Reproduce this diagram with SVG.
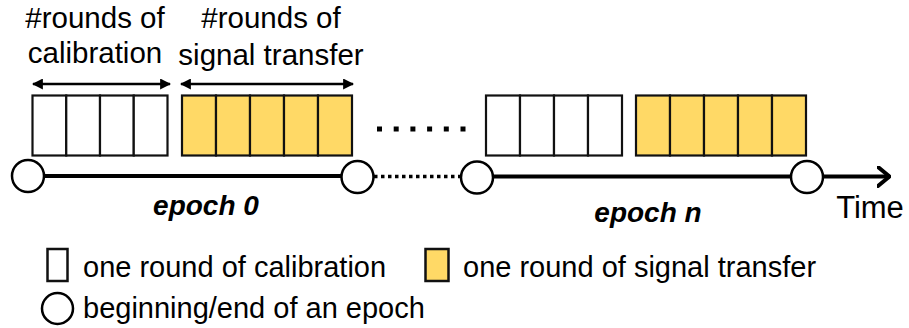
<svg xmlns="http://www.w3.org/2000/svg" width="909" height="328" viewBox="0 0 909 328">
<style>
text{font-family:"Liberation Sans",Arial,sans-serif;fill:#000}
.lbl{font-size:29.5px;text-anchor:middle}
.leg{font-size:29px}
.ep{font-size:28px;font-weight:bold;font-style:italic;text-anchor:middle}
.cell{stroke:#111;stroke-width:2.2}
.cal{fill:#fff}
.sig{fill:#FFD966}
.ev{fill:#fff;stroke:#000;stroke-width:2.5}
.axis{stroke:#000;stroke-width:4;fill:none}
.dim{stroke:#000;stroke-width:2.5;fill:none}
</style>
<defs>
<marker id="ah" viewBox="0 0 10 10" refX="9" refY="5" markerWidth="4.4" markerHeight="4.4" orient="auto-start-reverse" markerUnits="strokeWidth">
<path d="M0,0 L10,5 L0,10 Z" fill="#000"/>
</marker>
<marker id="chev" viewBox="0 0 14 22" refX="13" refY="11" markerWidth="14" markerHeight="22" orient="auto" markerUnits="userSpaceOnUse">
<path d="M1,1.5 L12.5,11 L1,20.5" fill="none" stroke="#000" stroke-width="4" stroke-linecap="round" stroke-linejoin="round"/>
</marker>
</defs>

<g id="labels">
<text class="lbl" x="95" y="28">#rounds of</text>
<text class="lbl" x="95" y="63">calibration</text>
<text class="lbl" x="271" y="28">#rounds of</text>
<text class="lbl" x="271" y="65">signal transfer</text>
</g>

<g id="connectors">
<line class="dim" x1="33" y1="84" x2="170" y2="84" marker-start="url(#ah)" marker-end="url(#ah)"/>
<line class="dim" x1="181" y1="84" x2="353" y2="84" marker-start="url(#ah)" marker-end="url(#ah)"/>
<line class="axis" x1="28" y1="176" x2="357" y2="176"/>
<line x1="374" y1="176.5" x2="462" y2="176.5" stroke="#000" stroke-width="3.5" stroke-dasharray="3.5 3.5"/>
<line class="axis" x1="477" y1="176.5" x2="890" y2="176.5" marker-end="url(#chev)"/>
</g>

<g id="epoch0-calibration">
<rect class="cell cal" x="32.5" y="95.5" width="33.75" height="60"/>
<rect class="cell cal" x="66.25" y="95.5" width="33.75" height="60"/>
<rect class="cell cal" x="100" y="95.5" width="33.75" height="60"/>
<rect class="cell cal" x="133.75" y="95.5" width="33.75" height="60"/>
</g>
<g id="epoch0-signal">
<rect class="cell sig" x="182" y="95.5" width="34" height="60"/>
<rect class="cell sig" x="216" y="95.5" width="34" height="60"/>
<rect class="cell sig" x="250" y="95.5" width="34" height="60"/>
<rect class="cell sig" x="284" y="95.5" width="34" height="60"/>
<rect class="cell sig" x="318" y="95.5" width="34" height="60"/>
</g>
<g id="ellipsis">
<rect x="377" y="126.5" width="5" height="5"/>
<rect x="393.7" y="126.5" width="5" height="5"/>
<rect x="410.4" y="126.5" width="5" height="5"/>
<rect x="427.1" y="126.5" width="5" height="5"/>
<rect x="443.8" y="126.5" width="5" height="5"/>
<rect x="460.5" y="126.5" width="5" height="5"/>
</g>
<g id="epochn-calibration">
<rect class="cell cal" x="486" y="95.5" width="34" height="60"/>
<rect class="cell cal" x="520" y="95.5" width="34" height="60"/>
<rect class="cell cal" x="554" y="95.5" width="34" height="60"/>
<rect class="cell cal" x="588" y="95.5" width="34" height="60"/>
</g>
<g id="epochn-signal">
<rect class="cell sig" x="636" y="95.5" width="34" height="60"/>
<rect class="cell sig" x="670" y="95.5" width="34" height="60"/>
<rect class="cell sig" x="704" y="95.5" width="34" height="60"/>
<rect class="cell sig" x="738" y="95.5" width="34" height="60"/>
<rect class="cell sig" x="772" y="95.5" width="34" height="60"/>
</g>

<g id="boundary0"><circle class="ev" cx="28" cy="176" r="16"/></g>
<g id="boundary1"><circle class="ev" cx="357.5" cy="177" r="16"/></g>
<g id="boundary2"><circle class="ev" cx="477" cy="177.5" r="16"/></g>
<g id="boundary3"><circle class="ev" cx="807" cy="177" r="16"/></g>

<g id="epoch-labels">
<text class="ep" x="206" y="215">epoch 0</text>
<text class="ep" x="648" y="222">epoch n</text>
<text x="870" y="218" style="font-size:31px;text-anchor:middle">Time</text>
</g>

<g id="legend">
<rect x="47.5" y="249" width="20" height="32" fill="#fff" stroke="#111" stroke-width="2.5"/>
<text class="leg" x="83" y="276.5">one round of calibration</text>
<rect x="425.5" y="249" width="23" height="32" fill="#FFD966" stroke="#111" stroke-width="2.5"/>
<text class="leg" x="463" y="276.5">one round of signal transfer</text>
<circle cx="57.5" cy="308.5" r="15.5" fill="#fff" stroke="#000" stroke-width="2.5"/>
<text class="leg" x="83" y="318">beginning/end of an epoch</text>
</g>
</svg>
